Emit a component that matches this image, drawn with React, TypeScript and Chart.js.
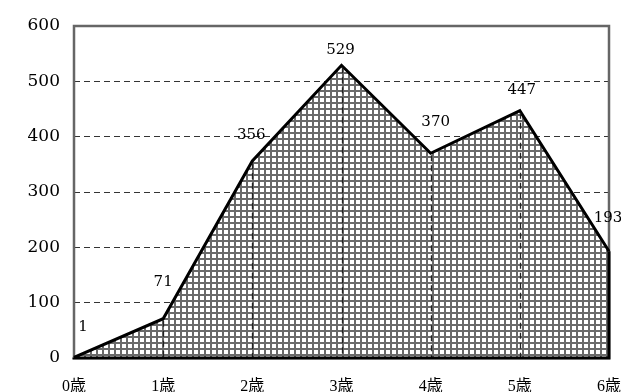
import React, { useEffect, useRef } from "react";
import { Chart, registerables } from "chart.js";

Chart.register(...registerables);

// Ages on the horizontal axis and the count recorded at each age
const ageLabels = ["0歳", "1歳", "2歳", "3歳", "4歳", "5歳", "6歳"];
const counts = [1, 71, 356, 529, 370, 447, 193];
const yMin = 0;
const yMax = 600;
const yStep = 100;

// Nudges for the value labels, relative to each point (px)
const labelShiftX = [9, 0, -1, -1, 5, 2, -1];
const labelShiftY = [-30, -37, -26, -15, -31, -21, -33];

const WIDTH = 621;
const HEIGHT = 392;

function makeGridPattern(): CanvasPattern | string {
  const tile = document.createElement("canvas");
  tile.width = 6;
  tile.height = 6;
  const g = tile.getContext("2d");
  if (!g) return "#bbbbbb";
  g.fillStyle = "#ffffff";
  g.fillRect(0, 0, 6, 6);
  g.fillStyle = "#6a6a6a";
  g.fillRect(0, 0, 6, 2);
  g.fillRect(0, 0, 2, 6);
  const p = g.createPattern(tile, "repeat");
  return p || "#bbbbbb";
}

const frameAndMarks = {
  id: "frameAndMarks",
  beforeDatasetsDraw(chart: any) {
    const { ctx, chartArea } = chart;
    ctx.save();
    ctx.strokeStyle = "#666666";
    ctx.lineWidth = 2.5;
    ctx.strokeRect(
      chartArea.left,
      chartArea.top,
      chartArea.right - chartArea.left,
      chartArea.bottom - chartArea.top
    );
    ctx.restore();
  },
  afterDatasetsDraw(chart: any) {
    const { ctx } = chart;
    const xs = chart.scales.x;
    const ys = chart.scales.y;
    const base = ys.getPixelForValue(0);
    const n = counts.length;

    // drop lines from every inner point to the axis
    ctx.save();
    ctx.strokeStyle = "#222222";
    ctx.lineWidth = 1.3;
    ctx.setLineDash([6, 4]);
    for (let i = 1; i < n - 1; i++) {
      const x = Math.round(xs.getPixelForValue(i)) + 0.5;
      const y = ys.getPixelForValue(counts[i]);
      ctx.beginPath();
      ctx.moveTo(x, y + 2);
      ctx.lineTo(x, base);
      ctx.stroke();
    }
    ctx.restore();

    // close the area outline along the sides and the base
    ctx.save();
    ctx.strokeStyle = "#000000";
    ctx.lineWidth = 3;
    ctx.lineJoin = "miter";
    const x0 = xs.getPixelForValue(0);
    const xn = xs.getPixelForValue(n - 1);
    ctx.beginPath();
    ctx.moveTo(x0, ys.getPixelForValue(counts[0]));
    ctx.lineTo(x0, base);
    ctx.lineTo(xn, base);
    ctx.lineTo(xn, ys.getPixelForValue(counts[n - 1]));
    ctx.stroke();
    ctx.restore();

    // value labels
    ctx.save();
    ctx.fillStyle = "#000000";
    ctx.font = '15px "DejaVu Serif", serif';
    ctx.textAlign = "center";
    ctx.textBaseline = "middle";
    for (let i = 0; i < n; i++) {
      const x = xs.getPixelForValue(i) + labelShiftX[i];
      const y = ys.getPixelForValue(counts[i]) + labelShiftY[i];
      ctx.fillText(String(counts[i]), x, y);
    }
    ctx.restore();
  },
};

export default function App() {
  const canvasRef = useRef<HTMLCanvasElement | null>(null);

  useEffect(() => {
    const canvas = canvasRef.current;
    if (!canvas) return;
    const chart = new Chart(canvas, {
      type: "line",
      data: {
        labels: ageLabels,
        datasets: [
          {
            data: counts,
            borderColor: "#000000",
            borderWidth: 3,
            backgroundColor: makeGridPattern() as any,
            fill: "origin",
            pointRadius: 0,
            tension: 0,
          },
        ],
      },
      options: {
        animation: false,
        responsive: false,
        devicePixelRatio: 1,
        layout: { padding: { top: 26, right: 12, left: 0, bottom: 0 } },
        plugins: {
          legend: { display: false },
          tooltip: { enabled: false },
        },
        scales: {
          x: {
            type: "category",
            offset: false,
            grid: { display: false, drawTicks: false },
            border: { display: false },
            ticks: {
              color: "#000000",
              font: { family: '"Liberation Serif", "Noto Sans CJK JP"', size: 16 },
              padding: 19,
              maxRotation: 0,
              autoSkip: false,
            },
            afterFit(scale: any) {
              scale.height = 34;
              scale.paddingLeft = 0;
              scale.paddingRight = 12;
            },
          },
          y: {
            min: yMin,
            max: yMax,
            grid: {
              drawTicks: false,
              lineWidth: 1,
              color: (c: any) =>
                c.tick && (c.tick.value === yMin || c.tick.value === yMax)
                  ? "rgba(0,0,0,0)"
                  : "#333333",
            },
            border: { display: false, dash: [6, 4] },
            ticks: {
              stepSize: yStep,
              color: "#000000",
              font: { family: '"DejaVu Serif", serif', size: 17 },
              padding: 14,
            },
            afterFit(scale: any) {
              scale.width = 74;
            },
          },
        },
      },
      plugins: [frameAndMarks],
    });
    return () => chart.destroy();
  }, []);

  return (
    <div style={{ position: "absolute", left: 0, top: 0, width: WIDTH, height: HEIGHT, background: "#fff" }}>
      <canvas ref={canvasRef} width={WIDTH} height={HEIGHT} style={{ display: "block" }} />
    </div>
  );
}
